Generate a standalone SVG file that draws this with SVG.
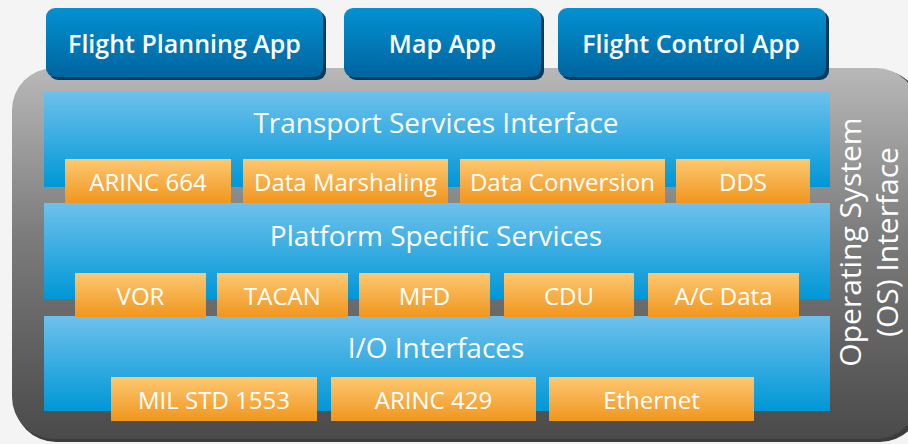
<svg xmlns="http://www.w3.org/2000/svg" width="908" height="444" viewBox="0 0 908 444">
<defs>
<linearGradient id="gGray" x1="0" y1="0" x2="0" y2="1">
<stop offset="0" stop-color="#b8b8b8"/>
<stop offset="0.45" stop-color="#7c7c7c"/>
<stop offset="1" stop-color="#4a4a4a"/>
</linearGradient>
<linearGradient id="gApp" x1="0" y1="0" x2="0" y2="1">
<stop offset="0" stop-color="#0391d2"/>
<stop offset="1" stop-color="#00649e"/>
</linearGradient>
<linearGradient id="gBlue" x1="0" y1="0" x2="0" y2="1">
<stop offset="0" stop-color="#6ec1ec"/>
<stop offset="1" stop-color="#0097d7"/>
</linearGradient>
<linearGradient id="gOrange" x1="0" y1="0" x2="0" y2="1">
<stop offset="0" stop-color="#fdc872"/>
<stop offset="1" stop-color="#f0961e"/>
</linearGradient>
<style>
.app{fill:url(#gApp)}
.appSh{fill:#0b3b5c}
.layer{fill:url(#gBlue)}
.box{fill:url(#gOrange)}
.appT{font-family:"Open Sans","Noto Sans",sans-serif;font-weight:600;font-size:25px;fill:#fff;text-anchor:middle}
.layT{font-family:"Open Sans","Noto Sans",sans-serif;font-size:28px;fill:#fff;text-anchor:middle}
.boxT{font-family:"Open Sans","Noto Sans",sans-serif;font-size:24px;fill:#fff;text-anchor:middle}
.osT{font-family:"Open Sans","Noto Sans",sans-serif;font-size:30px;fill:#fff;text-anchor:middle}
</style>
</defs>
<rect width="908" height="444" fill="#f4f4f4"/>
<g id="os">
<rect x="14" y="70" width="908" height="372" rx="42" fill="#3c3c3c"/>
<rect x="12" y="68" width="906" height="371" rx="42" fill="url(#gGray)"/>
<text class="osT" transform="translate(861,242) rotate(-90)">Operating System</text>
<text class="osT" transform="translate(898,242) rotate(-90)">(OS) Interface</text>
</g>
<g id="app-flight-planning">
<rect class="appSh" x="49" y="11" width="277" height="69" rx="9"/>
<rect class="app" x="46" y="8" width="277" height="69" rx="9"/>
<text class="appT" x="184.5" y="53">Flight Planning App</text>
</g>
<g id="app-map">
<rect class="appSh" x="347" y="11" width="197" height="69" rx="9"/>
<rect class="app" x="344" y="8" width="197" height="69" rx="9"/>
<text class="appT" x="442.5" y="53">Map App</text>
</g>
<g id="app-flight-control">
<rect class="appSh" x="561" y="11" width="268" height="69" rx="9"/>
<rect class="app" x="558" y="8" width="268" height="69" rx="9"/>
<text class="appT" x="691" y="53">Flight Control App</text>
</g>
<g id="layer-transport">
<rect class="layer" x="44" y="91" width="786" height="96"/>
<text class="layT" x="436" y="133">Transport Services Interface</text>
</g>
<g id="layer-platform">
<rect class="layer" x="44" y="203" width="786" height="96"/>
<text class="layT" x="436" y="246">Platform Specific Services</text>
</g>
<g id="layer-io">
<rect class="layer" x="44" y="316" width="786" height="95"/>
<text class="layT" x="436" y="358">I/O Interfaces</text>
</g>
<g id="arinc664"><rect class="box" x="65" y="159" width="166" height="44"/><text class="boxT" x="148" y="191">ARINC 664</text></g>
<g id="data-marshaling"><rect class="box" x="243" y="159" width="205" height="44"/><text class="boxT" x="345.5" y="191">Data Marshaling</text></g>
<g id="data-conversion"><rect class="box" x="460" y="159" width="205" height="44"/><text class="boxT" x="562.5" y="191">Data Conversion</text></g>
<g id="dds"><rect class="box" x="676" y="159" width="134" height="44"/><text class="boxT" x="743" y="191">DDS</text></g>
<g id="vor"><rect class="box" x="75" y="273" width="131" height="44"/><text class="boxT" x="140.5" y="305">VOR</text></g>
<g id="tacan"><rect class="box" x="217" y="273" width="131" height="44"/><text class="boxT" x="282.5" y="305">TACAN</text></g>
<g id="mfd"><rect class="box" x="359" y="273" width="131" height="44"/><text class="boxT" x="424.5" y="305">MFD</text></g>
<g id="cdu"><rect class="box" x="504" y="273" width="130" height="44"/><text class="boxT" x="569" y="305">CDU</text></g>
<g id="ac-data"><rect class="box" x="648" y="273" width="151" height="44"/><text class="boxT" x="723.5" y="305">A/C Data</text></g>
<g id="mil-std-1553"><rect class="box" x="111" y="377" width="206" height="44"/><text class="boxT" x="214" y="409">MIL STD 1553</text></g>
<g id="arinc429"><rect class="box" x="331" y="377" width="205" height="44"/><text class="boxT" x="433.5" y="409">ARINC 429</text></g>
<g id="ethernet"><rect class="box" x="549" y="377" width="205" height="44"/><text class="boxT" x="651.5" y="409">Ethernet</text></g>
<g id="connectors"/>
</svg>
